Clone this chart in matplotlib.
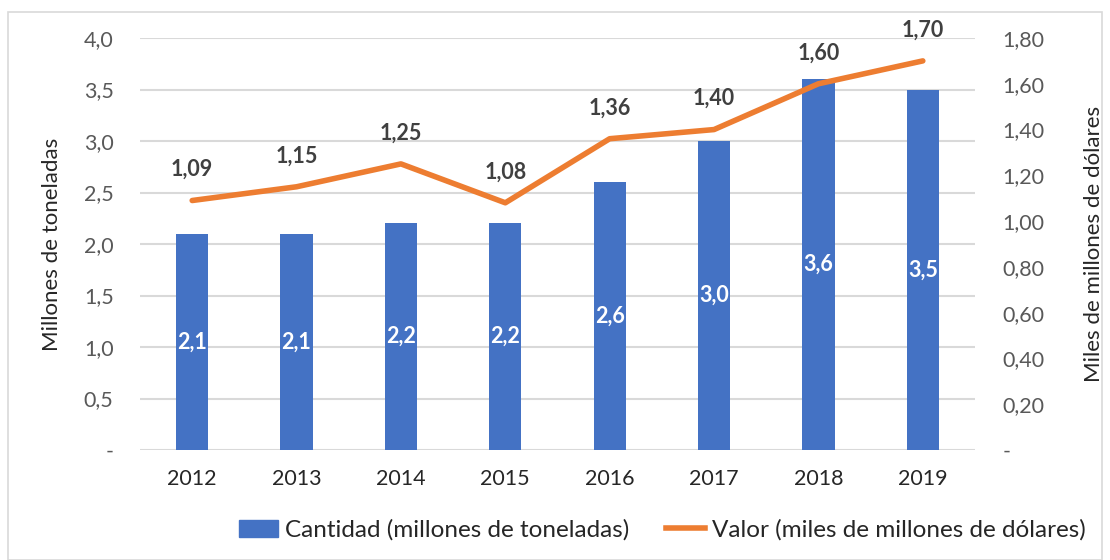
import matplotlib
matplotlib.use("Agg")
import matplotlib.pyplot as plt
from matplotlib.patches import Rectangle
from matplotlib.lines import Line2D
from matplotlib.patches import Patch
import numpy as np

years = ["2012", "2013", "2014", "2015", "2016", "2017", "2018", "2019"]
cantidad = [2.1, 2.1, 2.2, 2.2, 2.6, 3.0, 3.6, 3.5]
valor = [1.09, 1.15, 1.25, 1.08, 1.36, 1.40, 1.60, 1.70]

left_ticks = [0, 0.5, 1.0, 1.5, 2.0, 2.5, 3.0, 3.5, 4.0]
right_ticks = [0, 0.2, 0.4, 0.6, 0.8, 1.0, 1.2, 1.4, 1.6, 1.8]

BLUE = "#4472C4"
ORANGE = "#ED7D31"
GRID = "#D9D9D9"
TICKC = "#595959"
LABC = "#404040"

plt.rcParams['font.family'] = ['Lato', 'DejaVu Sans']

fig = plt.figure(figsize=(11.1, 5.6), dpi=100)
fig.patches.append(Rectangle((8/1110, 0), 1094/1110, (560-12)/560, transform=fig.transFigure,
                             fill=False, edgecolor="#D9D9D9", lw=1.2))

ax = fig.add_axes([140/1110, 110/560, 835/1110, 412/560])
x = np.arange(len(years))
ax.bar(x, cantidad, width=0.31, color=BLUE, zorder=2)
ax.set_xlim(-0.5, len(years) - 0.5)
ax.set_ylim(0, 4.0)
ax.set_yticks(left_ticks)
ax.set_yticklabels(["-" if v == 0 else f"{v:.1f}".replace(".", ",") for v in left_ticks])
ax.set_xticks(x)
ax.set_xticklabels(years)
ax.yaxis.grid(True, color=GRID, lw=1.5, zorder=0)
ax.set_axisbelow(True)
for s in ax.spines.values():
    s.set_visible(False)
ax.tick_params(axis='both', length=0, labelsize=15.5, colors=TICKC)
ax.tick_params(axis='x', colors="#262626", pad=14)
ax.tick_params(axis='y', pad=19)
ax.set_ylabel("Millones de toneladas", fontsize=16, color="#262626", labelpad=16)

for xi, v in zip(x, cantidad):
    ax.text(xi, v / 2, f"{v:.1f}".replace(".", ","), ha="center", va="center",
            color="white", fontsize=15.5, fontweight="bold", zorder=3)

ax2 = ax.twinx()
ax2.plot(x, valor, color=ORANGE, lw=4, solid_capstyle="round", zorder=4)
ax2.set_ylim(0, 1.8)
ax2.set_yticks(right_ticks)
ax2.set_yticklabels(["-" if v == 0 else f"{v:.2f}".replace(".", ",") for v in right_ticks])
for s in ax2.spines.values():
    s.set_visible(False)
ax2.tick_params(axis='y', length=0, labelsize=15.5, colors=TICKC, pad=20)
ax2.set_ylabel("Miles de millones de dólares", fontsize=16, color="#262626", labelpad=28)

for xi, v in zip(x, valor):
    ax2.annotate(f"{v:.2f}".replace(".", ","), (xi, v), xytext=(0, 31),
                 textcoords="offset pixels", ha="center", va="center",
                 color=LABC, fontsize=15.5, fontweight="bold")

handles = [Patch(facecolor=BLUE, edgecolor=BLUE),
           Line2D([0], [0], color=ORANGE, lw=4)]
labels = ["Cantidad (millones de toneladas)", "Valor (miles de millones de dólares)"]
fig.legend(handles, labels, loc="center", bbox_to_anchor=(0.597, 30/560), ncol=2, frameon=False,
           fontsize=17.5, handlelength=1.6, handletextpad=0.3, columnspacing=1.5,
           labelcolor="#262626")

fig.savefig("out.png", dpi=100)
